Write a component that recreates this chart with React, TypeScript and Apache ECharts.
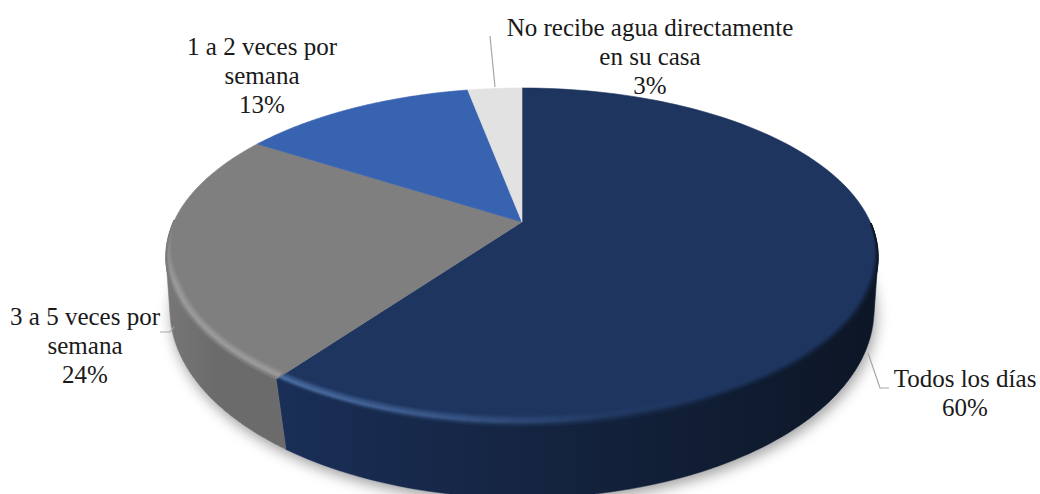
import React, { useEffect, useRef } from "react";
import * as echarts from "echarts";

// Frecuencia de recepción de agua en el hogar
const categories = [
  "Todos los días",
  "3 a 5 veces por\nsemana",
  "1 a 2 veces por\nsemana",
  "No recibe agua directamente\nen su casa",
];
const shares = [60, 24, 13, 3];
const faceColors = ["#1d355f", "#7f7f7f", "#3763b0", "#e2e2e2"];
const highlightColors = ["#5276b0", "#a2a2a2", "#3763b0", "#e2e2e2"];
const sideDarkColors = ["#0c1626", "#6b6b6b", "#2a4c88", "#b0b0b0"];
const sideLightColors = ["#1a2f57", "#777777", "#2a4c88", "#b0b0b0"];

const total = shares.reduce((a, b) => a + b, 0);

// Disc seen in perspective: a projective map sends the unit circle to the upper rim
const cx = 522;
const apexY = 222;
const topCy = 257;
const topRx = 356;
const topRy = 169;
const lowCy = 310;
const lowRx = 352;
const lowRy = 188;
const persp = 0.207;
const mapX = topRx * Math.sqrt(1 - persp * persp);
const mapY = 134 * (1 + persp);

type Pt = [number, number];

function rim(t: number): Pt {
  const a = 2 * Math.PI * t;
  const x = Math.sin(a);
  const y = -Math.cos(a);
  const d = 1 - persp * y;
  return [cx + (mapX * x) / d, apexY + (mapY * y) / d];
}
const unit = (p: Pt): Pt => [(p[0] - cx) / topRx, (p[1] - topCy) / topRy];
// The lower edge sits closer to the viewer, so its points slide towards the middle
const lower = (p: Pt): Pt => {
  const [u] = unit(p);
  const [, v] = unit(p);
  const u2 = Math.max(-1, Math.min(1, u * (1 - 0.04 * Math.max(v, 0))));
  return [cx + lowRx * u2, lowCy + lowRy * Math.sqrt(1 - u2 * u2)];
};
// Inset from the rim; the bevel narrows to nothing towards the back of the disc
const inset = (p: Pt, w: number): Pt => {
  const [u, v] = unit(p);
  const taper = Math.max(0, Math.min(1, (v + 0.22) / 0.4));
  const e = w * taper;
  return [cx + (topRx - e) * u, topCy + (topRy - e) * v];
};

function startOf(i: number) {
  return shares.slice(0, i).reduce((a, b) => a + b, 0) / total;
}
function sample(i: number, n = 160): number[] {
  const t0 = startOf(i);
  const t1 = t0 + shares[i] / total;
  return Array.from({ length: n + 1 }, (_, k) => t0 + ((t1 - t0) * k) / n);
}

function mix(a: string, b: string, f: number) {
  const ch = (s: string, o: number) => parseInt(s.slice(o, o + 2), 16);
  const c = [1, 3, 5].map((o) => Math.round(ch(a, o) + (ch(b, o) - ch(a, o)) * f));
  const hex = (n: number) => n.toString(16).padStart(2, "0");
  return `#${hex(c[0])}${hex(c[1])}${hex(c[2])}`;
}
const glow = (w: number) => Math.max(0, w <= 4 ? w / 4 : 1 - (w - 4) / 7);
const shade = (w: number) => Math.max(0, 0.95 - w / 7);

function renderSide(params: any) {
  const i = params.dataIndex;
  const top = sample(i).map(rim).filter((p) => p[1] >= topCy);
  if (top.length < 2) return { type: "group", children: [] };
  const bottom = top.map(lower).reverse();
  const fill = new echarts.graphic.LinearGradient(
    top.reduce((m, p) => Math.min(m, p[0]), 9999), 0,
    top.reduce((m, p) => Math.max(m, p[0]), 0), 0,
    [
      { offset: 0, color: sideLightColors[i] },
      { offset: 0.45, color: i === 0 ? "#14233f" : sideDarkColors[i] },
      { offset: 1, color: sideDarkColors[i] },
    ],
    true
  );
  return {
    type: "polygon",
    silent: true,
    shape: { points: [...top, ...bottom] },
    style: { fill, stroke: fill, lineWidth: 0.6 },
  };
}

function renderFace(params: any) {
  const i = params.dataIndex;
  const arc = sample(i).map(rim);
  const children: any[] = [
    {
      type: "polygon",
      silent: true,
      shape: { points: [[cx, apexY], ...arc] },
      style: { fill: faceColors[i], stroke: faceColors[i], lineWidth: 0.6 },
    },
  ];
  // Soft bevel along the front of the rim
  const band = arc.filter((p) => unit(p)[1] >= -0.22);
  if (band.length > 1 && i < 2) {
    const face = faceColors[i];
    const hi = highlightColors[i];
    const dark = sideDarkColors[i];
    for (let w = 10; w >= 0; w -= 1) {
      const g = glow(w);
      const s = shade(w);
      const stroke =
        i === 0
          ? new echarts.graphic.LinearGradient(
              283, 0, 878, 0,
              [
                { offset: 0, color: mix(mix(face, hi, g), dark, s * 0.2) },
                { offset: 0.3, color: mix(mix(face, hi, g * 0.6), dark, s * 0.25) },
                { offset: 0.55, color: mix(mix(face, hi, g * 0.12), dark, s * 0.5) },
                { offset: 0.75, color: mix(face, dark, s * 0.85) },
                { offset: 1, color: mix(face, dark, s) },
              ],
              true
            )
          : new echarts.graphic.LinearGradient(
              0, 215, 0, 285,
              [
                { offset: 0, color: face },
                { offset: 1, color: mix(mix(face, hi, g), dark, s * 0.35) },
              ],
              true
            );
      children.push({
        type: "polyline",
        silent: true,
        shape: { points: band.map((p) => inset(p, w)) },
        style: { fill: "none", stroke, lineWidth: 1.5 },
      });
    }
  }
  return { type: "group", children };
}

const labelFont = '25px "Liberation Serif", "Times New Roman", serif';
const labelSpots: Pt[] = [
  [965, 378],
  [85, 316],
  [262, 46],
  [650, 27],
];
const leaderLines: Pt[][] = [
  [[868, 353], [880, 388], [889, 388]],
  [[160, 332], [170, 332], [174, 327]],
  [],
  [[490, 36], [495, 87]],
];

export default function App() {
  const ref = useRef<HTMLDivElement>(null);
  useEffect(() => {
    const chart = echarts.init(ref.current!, undefined, { renderer: "svg" });
    const elements: any[] = [
      {
        type: "ellipse",
        silent: true,
        z: 0,
        shape: { cx, cy: lowCy, rx: lowRx, ry: lowRy },
        style: {
          fill: "#ffffff",
          shadowBlur: 14,
          shadowColor: "rgba(0,0,0,0.38)",
          shadowOffsetX: 2,
          shadowOffsetY: 5,
        },
      },
    ];
    leaderLines.forEach((points) => {
      if (points.length) {
        elements.push({
          type: "polyline",
          silent: true,
          z: 10,
          shape: { points },
          style: { fill: "none", stroke: "#a6a6a6", lineWidth: 1.2 },
        });
      }
    });
    categories.forEach((name, i) => {
      elements.push({
        type: "text",
        silent: true,
        z: 11,
        x: labelSpots[i][0],
        y: labelSpots[i][1] - 14,
        style: {
          text: `${name}\n${shares[i]}%`,
          font: labelFont,
          fill: "#1a1a1a",
          align: "center",
          verticalAlign: "top",
          lineHeight: 29,
        },
      });
    });
    chart.setOption({
      animation: false,
      backgroundColor: "#ffffff",
      graphic: { elements },
      series: [
        {
          type: "custom",
          name: "lateral",
          coordinateSystem: "none",
          z: 2,
          silent: true,
          data: shares.map((v) => [v]),
          renderItem: renderSide,
        },
        {
          type: "custom",
          name: "cara",
          coordinateSystem: "none",
          z: 3,
          silent: true,
          data: shares.map((v) => [v]),
          renderItem: renderFace,
        },
      ],
    });
    return () => chart.dispose();
  }, []);
  return (
    <div
      ref={ref}
      style={{ position: "absolute", left: 0, top: 0, width: 1040, height: 494, overflow: "hidden" }}
    />
  );
}
